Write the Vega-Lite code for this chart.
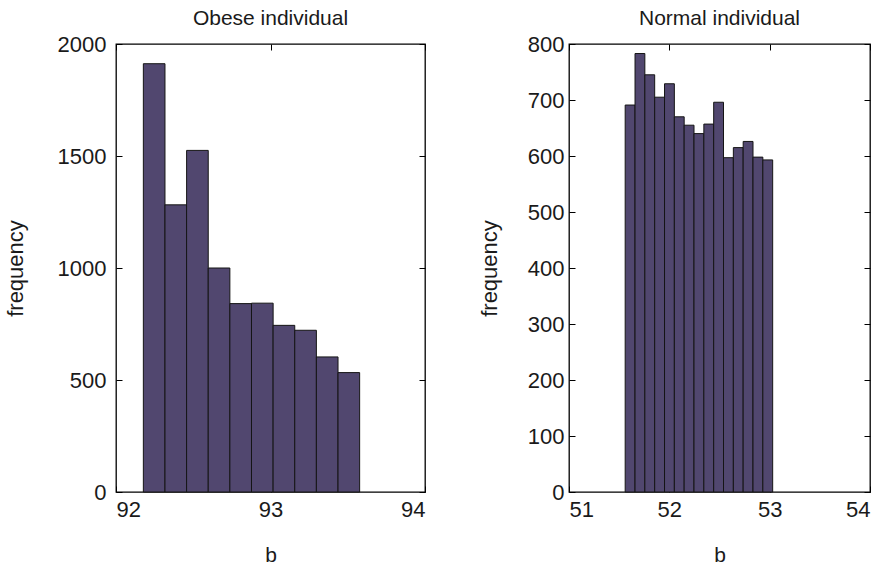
{
  "$schema": "https://vega.github.io/schema/vega-lite/v6.json",
  "background": "white",
  "padding": {"left": 3, "top": 7, "right": 5, "bottom": 2},
  "spacing": 50,
  "config": {
    "font": "Liberation Sans",
    "view": {"stroke": "black", "strokeWidth": 1.3},
    "axis": {
      "domain": false, "grid": false,
      "tickSize": -6, "tickColor": "black", "tickWidth": 1,
      "labelFont": "Liberation Sans", "labelFontSize": 22, "labelColor": "#1a1a1a", "format": "d",
      "titleFont": "Liberation Sans", "titleFontSize": 21, "titleFontWeight": "normal", "titleColor": "#1a1a1a"
    },
    "axisY": {"titleFontSize": 22},
    "title": {"font": "Liberation Sans", "fontSize": 21, "fontWeight": "normal", "color": "#1a1a1a", "offset": 4}
  },
  "hconcat": [
    {
      "width": 309, "height": 448,
      "title": "Obese individual",
      "data": {"values": [
        {"lo": 92.177, "hi": 92.317, "count": 1912},
        {"lo": 92.317, "hi": 92.457, "count": 1282},
        {"lo": 92.457, "hi": 92.597, "count": 1525},
        {"lo": 92.597, "hi": 92.737, "count": 1000},
        {"lo": 92.737, "hi": 92.877, "count": 841},
        {"lo": 92.877, "hi": 93.017, "count": 843},
        {"lo": 93.017, "hi": 93.157, "count": 744},
        {"lo": 93.157, "hi": 93.297, "count": 722},
        {"lo": 93.297, "hi": 93.437, "count": 603},
        {"lo": 93.437, "hi": 93.577, "count": 533}
      ]},
      "layer": [
        {
          "mark": {"type": "bar", "fill": "#51476f", "stroke": "#151515", "strokeWidth": 1},
          "encoding": {
            "x": {"field": "lo", "type": "quantitative", "scale": {"domain": [92, 94], "nice": false, "zero": false},
                  "axis": {"values": [92, 93, 94], "title": "b", "labelPadding": 13, "titlePadding": 24}},
            "x2": {"field": "hi"},
            "y": {"field": "count", "type": "quantitative", "scale": {"domain": [0, 2000], "nice": false},
                  "axis": {"values": [0, 500, 1000, 1500, 2000], "title": "frequency", "labelPadding": 16, "titlePadding": 30}},
            "y2": {"datum": 0}
          }
        },
        {
          "mark": {"type": "bar", "opacity": 0},
          "encoding": {
            "x": {"field": "lo", "type": "quantitative", "axis": {"orient": "top", "values": [92, 93, 94], "labels": false, "title": null}},
            "x2": {"field": "hi"},
            "y": {"field": "count", "type": "quantitative", "axis": {"orient": "right", "values": [0, 500, 1000, 1500, 2000], "labels": false, "title": null}},
            "y2": {"datum": 0}
          }
        }
      ],
      "resolve": {"axis": {"x": "independent", "y": "independent"}}
    },
    {
      "width": 301, "height": 448,
      "title": "Normal individual",
      "data": {"values": [
        {"lo": 51.56, "hi": 51.658, "count": 691},
        {"lo": 51.658, "hi": 51.756, "count": 783},
        {"lo": 51.756, "hi": 51.854, "count": 745},
        {"lo": 51.854, "hi": 51.952, "count": 705},
        {"lo": 51.952, "hi": 52.05, "count": 729},
        {"lo": 52.05, "hi": 52.148, "count": 670},
        {"lo": 52.148, "hi": 52.246, "count": 655},
        {"lo": 52.246, "hi": 52.344, "count": 640},
        {"lo": 52.344, "hi": 52.442, "count": 657},
        {"lo": 52.442, "hi": 52.54, "count": 696},
        {"lo": 52.54, "hi": 52.638, "count": 597},
        {"lo": 52.638, "hi": 52.736, "count": 615},
        {"lo": 52.736, "hi": 52.834, "count": 626},
        {"lo": 52.834, "hi": 52.932, "count": 598},
        {"lo": 52.932, "hi": 53.03, "count": 593}
      ]},
      "layer": [
        {
          "mark": {"type": "bar", "fill": "#51476f", "stroke": "#151515", "strokeWidth": 1},
          "encoding": {
            "x": {"field": "lo", "type": "quantitative", "scale": {"domain": [51, 54], "nice": false, "zero": false},
                  "axis": {"values": [51, 52, 53, 54], "title": "b", "labelPadding": 13, "titlePadding": 24}},
            "x2": {"field": "hi"},
            "y": {"field": "count", "type": "quantitative", "scale": {"domain": [0, 800], "nice": false},
                  "axis": {"values": [0, 100, 200, 300, 400, 500, 600, 700, 800], "title": "frequency", "labelPadding": 11, "titlePadding": 26}},
            "y2": {"datum": 0}
          }
        },
        {
          "mark": {"type": "bar", "opacity": 0},
          "encoding": {
            "x": {"field": "lo", "type": "quantitative", "axis": {"orient": "top", "values": [51, 52, 53, 54], "labels": false, "title": null}},
            "x2": {"field": "hi"},
            "y": {"field": "count", "type": "quantitative", "axis": {"orient": "right", "values": [0, 100, 200, 300, 400, 500, 600, 700, 800], "labels": false, "title": null}},
            "y2": {"datum": 0}
          }
        }
      ],
      "resolve": {"axis": {"x": "independent", "y": "independent"}}
    }
  ]
}
